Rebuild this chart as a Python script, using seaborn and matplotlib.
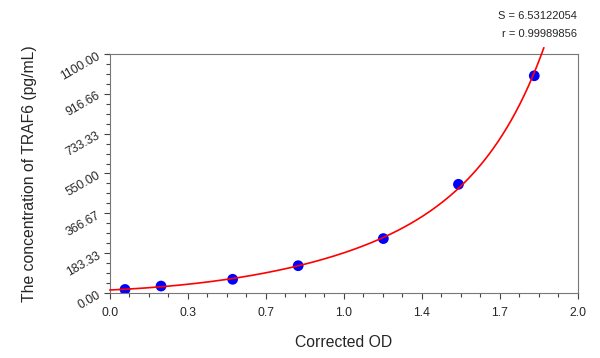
import numpy as np
import pandas as pd
import matplotlib
matplotlib.use("Agg")
import matplotlib.pyplot as plt
import seaborn as sns
from matplotlib.ticker import FixedLocator, AutoMinorLocator

# standard points
od = [0.065, 0.219, 0.525, 0.805, 1.169, 1.490, 1.814]
conc = [15.6, 31.25, 62.5, 125, 250, 500, 1000]

x_ticks = [0, 1/3, 2/3, 1, 4/3, 5/3, 2]
x_labels = ["0.0", "0.3", "0.7", "1.0", "1.4", "1.7", "2.0"]
y_ticks = [0, 183.33, 366.67, 550.0, 733.33, 916.66, 1100.0]
y_labels = ["0.00", "183.33", "366.67", "550.00", "733.33", "916.66", "1100.00"]

sns.set_style("white")
plt.rcParams['font.family'] = ['Liberation Sans', 'DejaVu Sans']

df = pd.DataFrame({"od": od, "conc": conc})

# standard curve: cubic fit on log concentration
coef = np.polyfit(od, np.log(conc), 3)
xs = np.linspace(0, 1.855, 200)
fit = pd.DataFrame({"od": xs, "conc": np.exp(np.polyval(coef, xs))})

fig = plt.figure(figsize=(6, 3.58), dpi=100)
ax = fig.add_axes([0.183, 0.182, 0.78, 0.667])

sns.lineplot(x="od", y="conc", data=fit, color="red", lw=1.2, ax=ax, clip_on=False, zorder=3)
sns.scatterplot(x="od", y="conc", data=df, color="blue", s=60, edgecolor="none", ax=ax, zorder=2)

ax.set_xlim(0, 2)
ax.set_ylim(0, 1100)
ax.xaxis.set_major_locator(FixedLocator(x_ticks))
ax.set_xticklabels(x_labels)
ax.yaxis.set_major_locator(FixedLocator(y_ticks))
ax.set_yticklabels(y_labels, rotation=30, ha="right", rotation_mode="anchor")
ax.xaxis.set_minor_locator(AutoMinorLocator(4))
ax.yaxis.set_minor_locator(AutoMinorLocator(4))
ax.tick_params(which="both", direction="out", color="#444444", labelsize=8.8)
ax.tick_params(which="major", length=4, width=0.8)
ax.tick_params(which="minor", length=3, width=0.8)
ax.tick_params(axis="x", pad=6)
ax.tick_params(axis="y", pad=4)
ax.tick_params(axis="x", bottom=True, which="both")
ax.tick_params(axis="y", left=True, which="both")

for sp in ax.spines.values():
    sp.set_color("#777777")
    sp.set_linewidth(0.8)

ax.set_xlabel("Corrected OD", fontsize=11.3, labelpad=12)
ax.set_ylabel("The concentration of TRAF6 (pg/mL)", fontsize=11.3, labelpad=16)

fig.text(0.962, 0.955, "S = 6.53122054", ha="right", va="center", fontsize=8)
fig.text(0.962, 0.905, "r = 0.99989856", ha="right", va="center", fontsize=8)

fig.savefig("out.png", dpi=100)
